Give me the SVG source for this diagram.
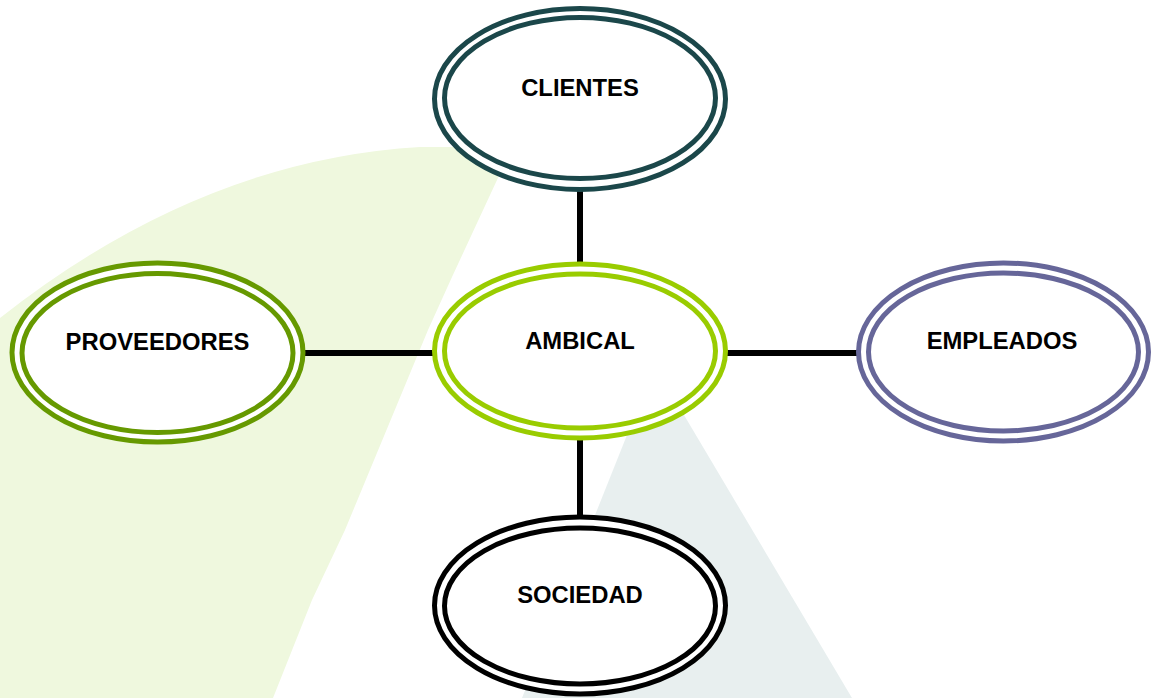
<svg xmlns="http://www.w3.org/2000/svg" width="1158" height="698" viewBox="0 0 1158 698">
<style>
.o{fill:#fff;stroke-width:5}
.i{fill:none;stroke-width:5}
.t{font-family:"Liberation Sans",Arial,sans-serif;font-weight:bold;font-size:23.8px;fill:#000;text-anchor:middle}
.c{stroke:#000;stroke-width:6;fill:none}
</style>
<rect width="1158" height="698" fill="#fff"/>
<g id="background">
<path d="M0,318 Q200,160 420,147 L512,147 L497,180 L452,277 L428,330 L345,530 L312,600 L273,698 L0,698 Z" fill="#EFF8DE"/>
<polygon points="635,415 684,415 852,698 522,698" fill="#E8EFEF"/>
</g>
<g id="connectors">
<line class="c" x1="580" y1="183" x2="580" y2="268"/>
<line class="c" x1="298" y1="353" x2="438" y2="353"/>
<line class="c" x1="722" y1="353" x2="861" y2="353"/>
<line class="c" x1="580" y1="437" x2="580" y2="522"/>
</g>
<g id="clientes">
<ellipse class="o" cx="580" cy="99" rx="145.5" ry="90.5" stroke="#1B474A"/>
<ellipse class="i" cx="580" cy="98" rx="135.5" ry="80.5" stroke="#1B474A"/>
<text class="t" x="580" y="96">CLIENTES</text>
</g>
<g id="proveedores">
<ellipse class="o" cx="157.5" cy="352.5" rx="145.5" ry="89.5" stroke="#669900"/>
<ellipse class="i" cx="157.5" cy="353" rx="135.5" ry="79.5" stroke="#669900"/>
<text class="t" x="157.5" y="350">PROVEEDORES</text>
</g>
<g id="ambical">
<ellipse class="o" cx="580" cy="351" rx="145.5" ry="87" stroke="#99CC00"/>
<ellipse class="i" cx="580" cy="351" rx="135.5" ry="77" stroke="#99CC00"/>
<text class="t" x="580" y="349">AMBICAL</text>
</g>
<g id="empleados">
<ellipse class="o" cx="1003.5" cy="352" rx="145" ry="89" stroke="#666699"/>
<ellipse class="i" cx="1003.5" cy="352" rx="135" ry="79" stroke="#666699"/>
<text class="t" x="1002" y="349">EMPLEADOS</text>
</g>
<g id="sociedad">
<ellipse class="o" cx="580" cy="605.5" rx="145.5" ry="88.5" stroke="#000"/>
<ellipse class="i" cx="580" cy="606" rx="135.5" ry="78" stroke="#000"/>
<text class="t" x="580" y="603">SOCIEDAD</text>
</g>
</svg>
